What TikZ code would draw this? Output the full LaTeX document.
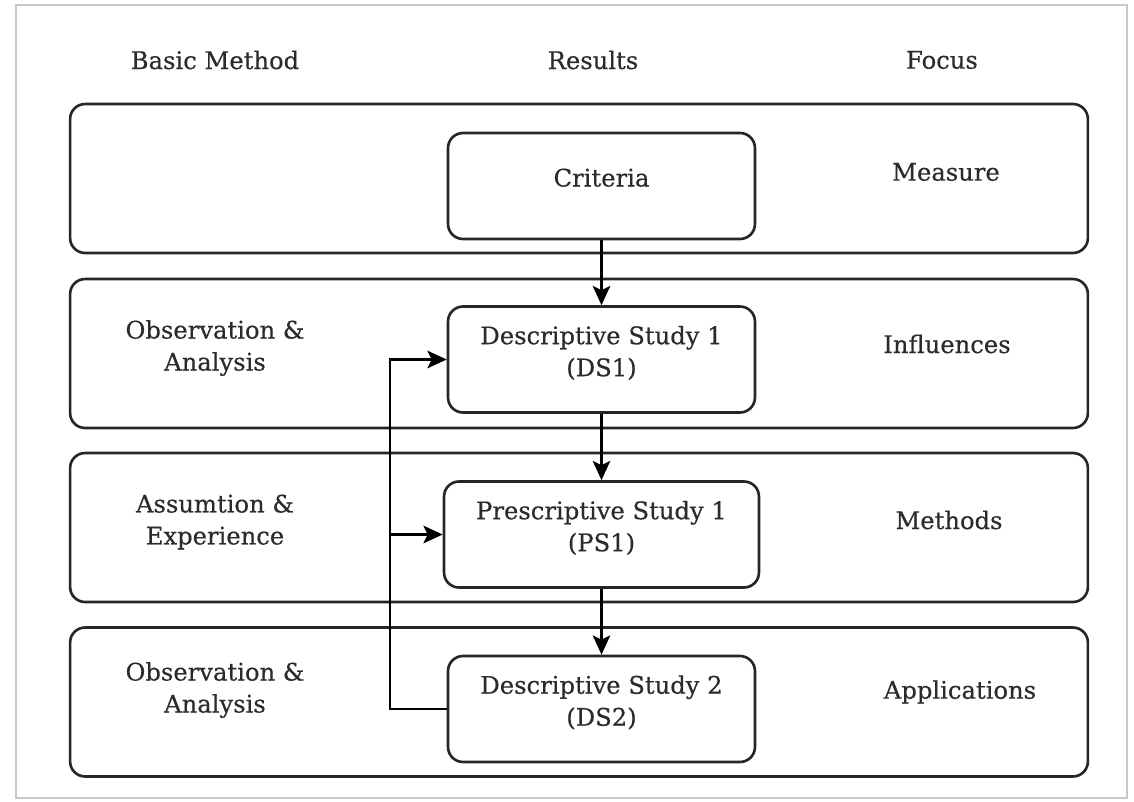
\documentclass[tikz,border=0pt]{standalone}
\usepackage{fontspec}
\setmainfont{DejaVu Serif}[FakeBold=0.4]
\usepackage{tikz}
\usetikzlibrary{arrows.meta,positioning}
\definecolor{inkgrey}{HTML}{2B2B2B}
\definecolor{framegrey}{HTML}{C8C8C8}

\begin{document}
\begin{tikzpicture}[x=0.02cm,y=-0.02cm,font=\fontsize{13.8}{18.2}\selectfont,text=inkgrey,
  band/.style={draw=black!85,line width=1.5pt,rounded corners=0.3cm,
               minimum width=20.36cm,minimum height=2.98cm,inner sep=0pt},
  stage/.style={draw=black!85,line width=1.5pt,rounded corners=0.3cm,fill=white,
                minimum width=6.14cm,minimum height=2.12cm,align=center,inner sep=0pt,
                text depth=0.34cm},
  lbl/.style={align=center,inner sep=1pt},
  flow/.style={draw=black,line width=1.3pt,-{Stealth[length=11pt,width=10pt,inset=2.5pt]}}]
\useasboundingbox (0,0) rectangle (1134,802);
\draw[framegrey,line width=1.5pt] (16,5) rectangle (1127,798);

% column headers
\node[lbl] (hbasic) at (215,60) {Basic Method};
\node[lbl] (hres)   at (593,60) {Results};
\node[lbl] (hfocus) at (942,60) {Focus};

% bands
\node[band] (b1) at (579,178.5) {};
\node[band] (b2) at (579,353.5) {};
\node[band] (b3) at (579,527.5) {};
\node[band] (b4) at (579,702)   {};

% stages
\node[stage] (crit) at (601.5,186)   {Criteria};
\node[stage] (ds1)  at (601.5,359.5) {Descriptive Study 1\\(DS1)};
\node[stage,minimum width=6.3cm] (ps1) at (601.5,534.5) {Prescriptive Study 1\\(PS1)};
\node[stage] (ds2)  at (601.5,709)   {Descriptive Study 2\\(DS2)};

% basic method
\node[lbl] (m2) at (215,348) {Observation \&\\Analysis};
\node[lbl] (m3) at (215,522) {Assumtion \&\\Experience};
\node[lbl] (m4) at (215,690) {Observation \&\\Analysis};

% focus
\node[lbl] (f1) at (946,172) {Measure};
\node[lbl] (f2) at (947,344) {Influences};
\node[lbl] (f3) at (949,520) {Methods};
\node[lbl] (f4) at (960,692) {Applications};

% connectors
\draw[flow] (crit) -- (ds1);
\draw[flow] (ds1) -- (ps1);
\draw[flow] (ps1) -- (ds2);
\coordinate (fbot) at (390,709);
\coordinate (ftop) at (390,359.5);
\draw[flow] (ds2.west) -- (fbot) -- (ftop) -- (ds1.west);
\draw[flow] (ftop |- ps1.west) -- (ps1.west);
\end{tikzpicture}
\end{document}
